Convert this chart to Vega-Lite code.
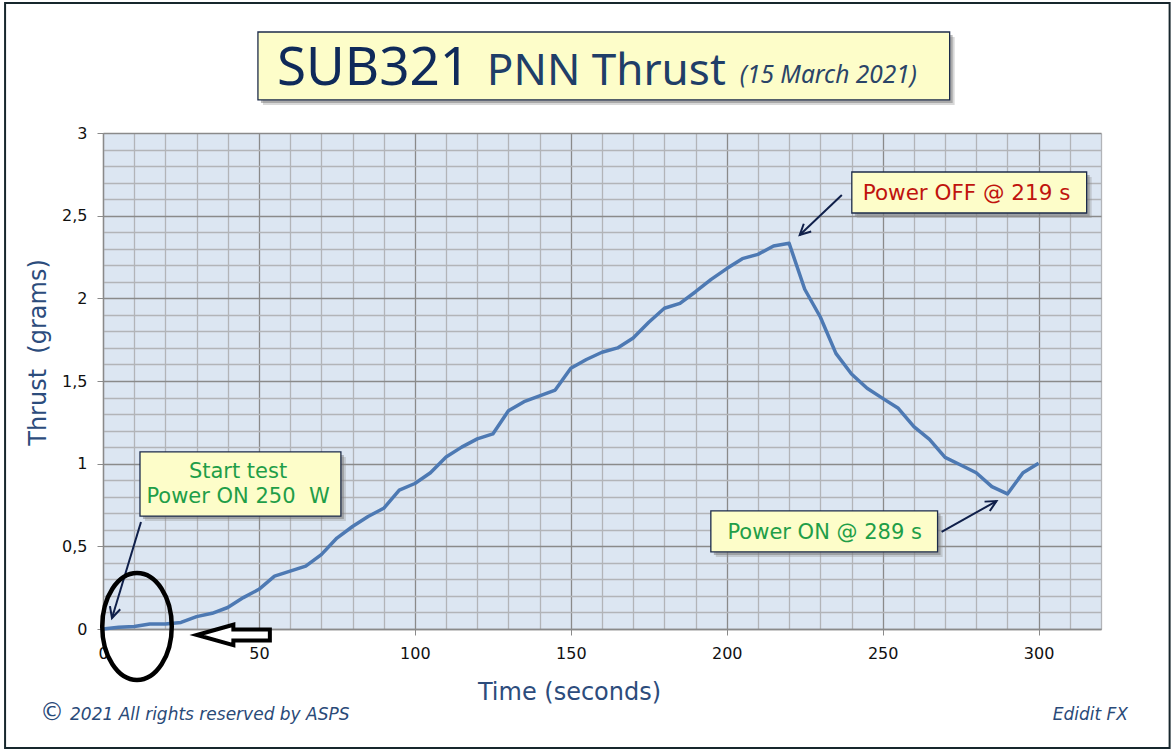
{
  "$schema": "https://vega.github.io/schema/vega-lite/v6.json",
  "width": 998,
  "height": 496,
  "autosize": {"type": "none"},
  "padding": {"left": 103, "top": 133, "right": 74, "bottom": 124},
  "background": "#ffffff",
  "config": {"view": {"fill": "#dce6f2", "stroke": null}, "font": "DejaVu Sans"},
  "datasets": {
    "thrust": [
      {"t": 0, "v": 0}, {"t": 5, "v": 0.01}, {"t": 10, "v": 0.015}, {"t": 15, "v": 0.03}, {"t": 20, "v": 0.03},
      {"t": 25, "v": 0.04}, {"t": 30, "v": 0.075}, {"t": 35, "v": 0.095}, {"t": 40, "v": 0.13}, {"t": 45, "v": 0.19},
      {"t": 50, "v": 0.24}, {"t": 55, "v": 0.32}, {"t": 60, "v": 0.35}, {"t": 65, "v": 0.38}, {"t": 70, "v": 0.45},
      {"t": 75, "v": 0.55}, {"t": 80, "v": 0.62}, {"t": 85, "v": 0.68}, {"t": 90, "v": 0.73}, {"t": 95, "v": 0.84},
      {"t": 100, "v": 0.88}, {"t": 105, "v": 0.945}, {"t": 110, "v": 1.04}, {"t": 115, "v": 1.1}, {"t": 120, "v": 1.15},
      {"t": 125, "v": 1.18}, {"t": 130, "v": 1.32}, {"t": 135, "v": 1.375}, {"t": 140, "v": 1.41}, {"t": 145, "v": 1.445},
      {"t": 150, "v": 1.577}, {"t": 155, "v": 1.63}, {"t": 160, "v": 1.674}, {"t": 165, "v": 1.7}, {"t": 170, "v": 1.76},
      {"t": 175, "v": 1.855}, {"t": 180, "v": 1.94}, {"t": 185, "v": 1.97}, {"t": 190, "v": 2.04}, {"t": 195, "v": 2.115},
      {"t": 200, "v": 2.18}, {"t": 205, "v": 2.24}, {"t": 210, "v": 2.266}, {"t": 215, "v": 2.317}, {"t": 220, "v": 2.333},
      {"t": 225, "v": 2.055}, {"t": 230, "v": 1.887}, {"t": 235, "v": 1.667}, {"t": 240, "v": 1.542}, {"t": 245, "v": 1.456},
      {"t": 250, "v": 1.395}, {"t": 255, "v": 1.335}, {"t": 260, "v": 1.224}, {"t": 265, "v": 1.147}, {"t": 270, "v": 1.038},
      {"t": 275, "v": 0.992}, {"t": 280, "v": 0.945}, {"t": 285, "v": 0.861}, {"t": 290, "v": 0.817}, {"t": 295, "v": 0.945},
      {"t": 300, "v": 1.002}
    ],
    "frame": [{"t": -31.4, "t2": 342.0, "v": 3.786, "v2": -0.72}],
    "boxes": [
      {"id": "title", "t": 49.68, "t2": 271.47, "v": 3.611, "v2": 3.2},
      {"id": "b1", "t": 11.86, "t2": 76.28, "v": 1.071, "v2": 0.683},
      {"id": "b2", "t": 240.1, "t2": 315.4, "v": 2.764, "v2": 2.516},
      {"id": "b3", "t": 194.9, "t2": 267.6, "v": 0.714, "v2": 0.466}
    ],
    "arrows": [
      {"id": "a1", "t": 2.88, "v": 0.0665, "t2": 12.18, "v2": 0.647},
      {"id": "a2", "t": 223.4, "v": 2.383, "t2": 236.9, "v2": 2.625},
      {"id": "a3", "t": 286.5, "v": 0.774, "t2": 268.9, "v2": 0.587}
    ],
    "texts": [
      {"g": "sub", "t": 55.77, "v": 3.29, "label": "SUB321"},
      {"g": "pnn", "t": 123.08, "v": 3.29, "label": "PNN Thrust"},
      {"g": "date", "t": 204.2, "v": 3.302, "label": "(15 March 2021)"},
      {"g": "green", "t": 43.3, "v": 0.913, "label": "Start test"},
      {"g": "green", "t": 43.3, "v": 0.762, "label": "Power ON 250\u00a0 W"},
      {"g": "green", "t": 231.4, "v": 0.544, "label": "Power ON @ 289 s"},
      {"g": "red", "t": 276.9, "v": 2.595, "label": "Power OFF @ 219 s"},
      {"g": "copy", "t": -16.35, "v": -0.508, "label": "©"},
      {"g": "rights", "t": -10.58, "v": -0.55, "label": "2021 All rights reserved by ASPS"},
      {"g": "edidit", "t": 304.5, "v": -0.55, "label": "Edidit FX"}
    ],
    "ellipse": [{"t": 10.9, "v": 0.015}],
    "hollow": [{"t": 41.8, "v": -0.036}]
  },
  "encoding": {
    "x": {
      "field": "t", "type": "quantitative",
      "scale": {"domain": [0, 320], "nice": false, "zero": false},
      "axis": {
        "values": [0,10,20,30,40,50,60,70,80,90,100,110,120,130,140,150,160,170,180,190,200,210,220,230,240,250,260,270,280,290,300,310,320],
        "title": "Time (seconds)",
        "titleFont": "DejaVu Sans", "titleFontSize": 24, "titleFontWeight": "normal", "titleColor": "#2c4c7c",
        "titleX": 466, "titleY": 63, "titleBaseline": "middle", "titleAlign": "center",
        "grid": true,
        "gridColor": {"condition": {"test": "datum.value % 50 === 0", "value": "#8a8a8a"}, "value": "#b2b4b8"},
        "gridWidth": 1.3,
        "labelExpr": "datum.value % 50 === 0 ? datum.label : ''",
        "labelFlush": false, "labelOverlap": false,
        "labelFont": "DejaVu Sans", "labelFontSize": 16, "labelColor": "#111111", "labelPadding": 10,
        "tickOpacity": {"condition": {"test": "datum.value % 50 === 0", "value": 1}, "value": 0},
        "tickColor": "#8a8a8a", "tickSize": 6,
        "domainColor": "#8a8a8a", "domainWidth": 1.3
      }
    },
    "y": {
      "field": "v", "type": "quantitative",
      "scale": {"domain": [0, 3], "nice": false, "zero": false},
      "axis": {
        "values": [0,0.1,0.2,0.3,0.4,0.5,0.6,0.7,0.8,0.9,1,1.1,1.2,1.3,1.4,1.5,1.6,1.7,1.8,1.9,2,2.1,2.2,2.3,2.4,2.5,2.6,2.7,2.8,2.9,3],
        "title": "Thrust\u00a0 (grams)",
        "titleFont": "DejaVu Sans", "titleFontSize": 24, "titleFontWeight": "normal", "titleColor": "#2c4c7c",
        "titleX": -65, "titleY": 219, "titleAngle": -90, "titleBaseline": "middle", "titleAlign": "center",
        "grid": true,
        "gridColor": {"condition": {"test": "round(datum.value * 10) % 5 === 0", "value": "#8a8a8a"}, "value": "#b2b4b8"},
        "gridWidth": 1.3,
        "labelExpr": "round(datum.value * 10) % 5 === 0 ? replace(format(datum.value, '~g'), '.', ',') : ''",
        "labelFlush": false, "labelOverlap": false,
        "labelFont": "DejaVu Sans", "labelFontSize": 16, "labelColor": "#111111", "labelPadding": 10,
        "tickOpacity": {"condition": {"test": "round(datum.value * 10) % 5 === 0", "value": 1}, "value": 0},
        "tickColor": "#8a8a8a", "tickSize": 6,
        "domainColor": "#8a8a8a", "domainWidth": 1.3
      }
    }
  },
  "layer": [
    {
      "data": {"name": "thrust"},
      "mark": {"type": "line", "color": "#4d79b3", "strokeWidth": 3.5, "strokeJoin": "round"}
    },
    {
      "data": {"name": "frame"},
      "mark": {"type": "rect", "fill": null, "fillOpacity": 0, "stroke": "#17272d", "strokeWidth": 2},
      "encoding": {"x2": {"field": "t2"}, "y2": {"field": "v2"}}
    },
    {
      "data": {"name": "boxes"},
      "mark": {"type": "rect", "fill": "#8f8f8f", "opacity": 0.35, "xOffset": 5, "x2Offset": 5, "yOffset": 5, "y2Offset": 5},
      "encoding": {"x2": {"field": "t2"}, "y2": {"field": "v2"}}
    },
    {
      "data": {"name": "boxes"},
      "mark": {"type": "rect", "fill": "#7a7a7a", "opacity": 0.5, "xOffset": 3, "x2Offset": 3, "yOffset": 3, "y2Offset": 3},
      "encoding": {"x2": {"field": "t2"}, "y2": {"field": "v2"}}
    },
    {
      "data": {"name": "boxes"},
      "mark": {"type": "rect", "fill": "#fdfdc9", "stroke": "#1c2b4a", "strokeWidth": 1.3},
      "encoding": {"x2": {"field": "t2"}, "y2": {"field": "v2"}}
    },
    {
      "data": {"name": "arrows"},
      "mark": {"type": "rule", "color": "#0f1f4a", "strokeWidth": 2},
      "encoding": {"x2": {"field": "t2"}, "y2": {"field": "v2"}}
    },
    {
      "data": {"name": "arrows"},
      "transform": [{"filter": "datum.id === 'a1'"}],
      "mark": {"type": "point", "shape": "M -0.5,1 L 0,0 L 0.5,1", "size": 460, "filled": false, "color": "#0f1f4a", "strokeWidth": 2, "opacity": 1, "angle": 196.8}
    },
    {
      "data": {"name": "arrows"},
      "transform": [{"filter": "datum.id === 'a2'"}],
      "mark": {"type": "point", "shape": "M -0.5,1 L 0,0 L 0.5,1", "size": 460, "filled": false, "color": "#0f1f4a", "strokeWidth": 2, "opacity": 1, "angle": 226.4}
    },
    {
      "data": {"name": "arrows"},
      "transform": [{"filter": "datum.id === 'a3'"}],
      "mark": {"type": "point", "shape": "M -0.5,1 L 0,0 L 0.5,1", "size": 460, "filled": false, "color": "#0f1f4a", "strokeWidth": 2, "opacity": 1, "angle": 60.6}
    },
    {
      "data": {"name": "texts"},
      "transform": [{"filter": "datum.g === 'sub'"}],
      "mark": {"type": "text", "font": "Noto Sans", "fontSize": 53, "color": "#0f2a5a", "align": "left", "baseline": "alphabetic"},
      "encoding": {"text": {"field": "label"}}
    },
    {
      "data": {"name": "texts"},
      "transform": [{"filter": "datum.g === 'pnn'"}],
      "mark": {"type": "text", "font": "Noto Sans", "fontSize": 44, "color": "#1f3e68", "align": "left", "baseline": "alphabetic"},
      "encoding": {"text": {"field": "label"}}
    },
    {
      "data": {"name": "texts"},
      "transform": [{"filter": "datum.g === 'date'"}],
      "mark": {"type": "text", "font": "Noto Sans", "fontSize": 24.5, "fontStyle": "italic", "color": "#2a4468", "align": "left", "baseline": "alphabetic"},
      "encoding": {"text": {"field": "label"}}
    },
    {
      "data": {"name": "texts"},
      "transform": [{"filter": "datum.g === 'green'"}],
      "mark": {"type": "text", "font": "DejaVu Sans", "fontSize": 21, "color": "#1f9e48", "align": "center", "baseline": "alphabetic"},
      "encoding": {"text": {"field": "label"}}
    },
    {
      "data": {"name": "texts"},
      "transform": [{"filter": "datum.g === 'red'"}],
      "mark": {"type": "text", "font": "DejaVu Sans", "fontSize": 21.5, "color": "#c0140e", "align": "center", "baseline": "alphabetic"},
      "encoding": {"text": {"field": "label"}}
    },
    {
      "data": {"name": "texts"},
      "transform": [{"filter": "datum.g === 'copy'"}],
      "mark": {"type": "text", "font": "DejaVu Sans", "fontSize": 24, "color": "#2a4a78", "align": "center", "baseline": "middle"},
      "encoding": {"text": {"field": "label"}}
    },
    {
      "data": {"name": "texts"},
      "transform": [{"filter": "datum.g === 'rights' || datum.g === 'edidit'"}],
      "mark": {"type": "text", "font": "DejaVu Sans", "fontSize": 17, "fontStyle": "italic", "color": "#2a4a78", "align": "left", "baseline": "alphabetic"},
      "encoding": {"text": {"field": "label"}}
    },
    {
      "data": {"name": "ellipse"},
      "mark": {"type": "point", "shape": "M 0,-1 C 0.359,-1 0.65,-0.552 0.65,0 C 0.65,0.552 0.359,1 0,1 C -0.359,1 -0.65,0.552 -0.65,0 C -0.65,-0.552 -0.359,-1 0,-1 Z", "size": 11449, "filled": false, "color": "#000000", "strokeWidth": 4.5, "opacity": 1}
    },
    {
      "data": {"name": "hollow"},
      "mark": {"type": "point", "shape": "M -1,0 L 0,-0.28 L 0,-0.15 L 1,-0.15 L 1,0.15 L 0,0.15 L 0,0.28 Z", "size": 5329, "filled": true, "fill": "#ffffff", "stroke": "#000000", "strokeWidth": 4, "opacity": 1}
    }
  ]
}
